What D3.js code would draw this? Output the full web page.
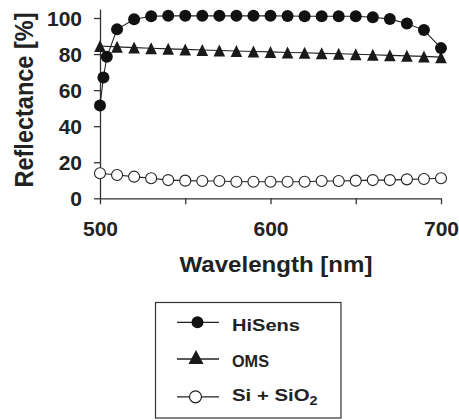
<!DOCTYPE html>
<html><head><meta charset="utf-8">
<script src="https://cdn.jsdelivr.net/npm/d3@7"></script>
<style>
body{margin:0;background:#fff}
svg{display:block}
text{font-family:"Liberation Sans",Arial,Helvetica,sans-serif;font-weight:bold;fill:#222}
</style>
</head><body>
<svg id="c" width="459" height="420"></svg>
<script>
// ---- data ----
const hiWavelengths = [500,502,504,510,520,530,540,550,560,570,580,590,600,610,620,630,640,650,660,670,680,690,700];
const hiSens        = [51.5,67,78.5,93.7,99.3,101,101.2,101.2,101.2,101.2,101.2,101.2,101.2,101.1,101,101,101,101,100.4,99.4,97,93.3,83.3];
const wavelengths   = [500,510,520,530,540,550,560,570,580,590,600,610,620,630,640,650,660,670,680,690,700];
const oms           = [84.5,84,83.6,83.2,82.9,82.6,82.3,82,81.7,81.4,81.2,80.9,80.7,80.4,80.2,79.9,79.6,79.3,79,78.7,78.3];
const siSiO2        = [13.9,12.9,12,11.1,10.1,9.8,9.6,9.6,9.2,9.2,9.2,9.2,9.2,9.6,9.6,9.8,10.1,10.1,10.5,10.7,11.1];
const xTicks        = [500,550,600,650,700];
const xTickLabels   = ["500","","600","","700"];
const yTicks        = [0,20,40,60,80,100];
const seriesNames   = ["HiSens","OMS","Si + SiO"];
const xTitle = "Wavelength [nm]";
const yTitle = "Reflectance [%]";

// ---- chart ----
const svg = d3.select("#c");
const ink = "#222";
const x = d3.scaleLinear().domain([500,700]).range([100,441]);
const y = d3.scaleLinear().domain([0,105]).range([198.3, 9]);

// axes
const gx = svg.append("g").attr("transform","translate(0,198.3)")
  .call(d3.axisBottom(x).tickValues(xTicks).tickSize(6).tickSizeOuter(0)
        .tickFormat((d,i)=>xTickLabels[i]).tickPadding(5));
const gy = svg.append("g").attr("transform","translate(100,0)")
  .call(d3.axisLeft(y).tickValues(yTicks).tickSize(6).tickSizeOuter(0).tickPadding(12));
[gx,gy].forEach(g=>{
  g.attr("font-family",null).attr("font-size",null);
  g.selectAll("path,line").attr("stroke","#333").attr("stroke-width",1.3);
  g.selectAll("text").attr("fill",ink).style("font-size","21px");
});
gx.selectAll("text").attr("dy","0.71em").attr("y",22.5);
gy.selectAll("text").attr("dy","0.36em");

// axis titles
svg.append("text").attr("x",276).attr("y",271.7).attr("text-anchor","middle")
  .style("font-size","22px").attr("textLength",193).attr("lengthAdjust","spacingAndGlyphs")
  .text(xTitle);
svg.append("text").attr("transform","translate(33,100) rotate(-90)").attr("text-anchor","middle")
  .style("font-size","26px").attr("textLength",175).attr("lengthAdjust","spacingAndGlyphs")
  .text(yTitle);

const line = d3.line().x(d=>x(d[0])).y(d=>y(d[1]));
const tri = (hw,top,bot) => `M0,${-top}L${hw},${bot}L${-hw},${bot}Z`;

// Si + SiO2
const siPts = wavelengths.map((w,i)=>[w,siSiO2[i]]);
svg.append("path").attr("d",line(siPts)).attr("fill","none").attr("stroke",ink).attr("stroke-width",1.1);
svg.selectAll(".si").data(siPts).join("circle").attr("cx",d=>x(d[0])).attr("cy",d=>y(d[1]))
  .attr("r",5.5).attr("fill","#fff").attr("stroke",ink).attr("stroke-width",1.1);

// OMS
const omsPts = wavelengths.map((w,i)=>[w,oms[i]]);
svg.append("path").attr("d",line(omsPts)).attr("fill","none").attr("stroke",ink).attr("stroke-width",1.1);
svg.selectAll(".oms").data(omsPts).join("path").attr("d",tri(5.8,6,6))
  .attr("transform",d=>`translate(${x(d[0])},${y(d[1])})`).attr("fill","#1a1a1a");

// HiSens
const hiPts = hiWavelengths.map((w,i)=>[w,hiSens[i]]);
svg.append("path").attr("d",line(hiPts)).attr("fill","none").attr("stroke",ink).attr("stroke-width",1.1);
svg.selectAll(".hi").data(hiPts).join("circle").attr("cx",d=>x(d[0])).attr("cy",d=>y(d[1]))
  .attr("r",6).attr("fill","#111");

// legend
const lg = svg.append("g");
lg.append("rect").attr("x",155.5).attr("y",302.5).attr("width",185.5).attr("height",115.5)
  .attr("fill","none").attr("stroke","#333").attr("stroke-width",1.2);
const rowsY = [322.3,359,396.8];
const textY = [330.7,366.7,401];
const textW = [68,37,86];
rowsY.forEach((ry,i)=>{
  lg.append("line").attr("x1",177).attr("x2",219).attr("y1",ry).attr("y2",ry)
    .attr("stroke",ink).attr("stroke-width",1.3);
  if(i===0) lg.append("circle").attr("cx",197.5).attr("cy",ry).attr("r",6).attr("fill","#111");
  if(i===1) lg.append("path").attr("d",tri(7.5,9,5)).attr("transform",`translate(196,${ry})`).attr("fill","#1a1a1a");
  if(i===2) lg.append("circle").attr("cx",195.5).attr("cy",ry).attr("r",6).attr("fill","#fff").attr("stroke",ink).attr("stroke-width",1.2);
  const t = lg.append("text").attr("x",232).attr("y",textY[i]).style("font-size","17px");
  t.text(seriesNames[i]);
  if(i===2){
    t.append("tspan").attr("dy",4.5).style("font-size","12px").text("2");
  }
  const bb = t.node().getBBox();
  const sx = textW[i]/bb.width;
  t.attr("transform",`translate(232,0) scale(${sx},1) translate(-232,0)`);
});
</script>
</body></html>
